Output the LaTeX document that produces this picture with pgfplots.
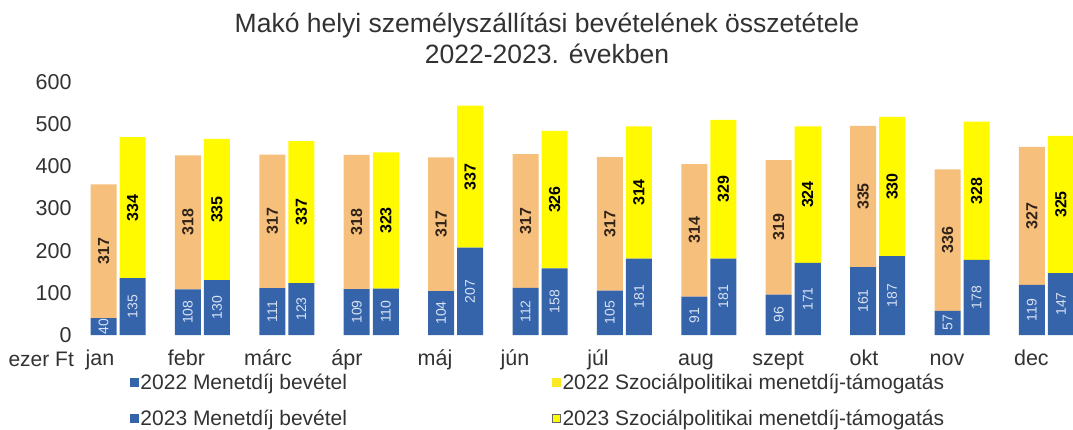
\documentclass[border=0pt]{standalone}
\usepackage{fontspec}
\setmainfont{Liberation Sans}
\usepackage{pgfplots}
\usepackage{pgfplotstable}
\pgfplotsset{compat=1.18}
\definecolor{cblue}{RGB}{54,100,170}
\definecolor{corange}{RGB}{246,192,124}
\definecolor{cyellow}{RGB}{255,250,0}
\definecolor{ctext}{RGB}{50,50,50}
\definecolor{clabel}{RGB}{215,226,244}
\definecolor{cdark}{RGB}{50,35,25}
\pgfplotstableread{
m b22 o22 b23 y23
1 40 317 135 334
2 108 318 130 335
3 111 317 123 337
4 109 318 110 323
5 104 317 207 337
6 112 317 158 326
7 105 317 181 314
8 91 314 181 329
9 96 319 171 324
10 161 335 187 330
11 57 336 178 328
12 119 327 147 325
}\data
\tikzset{
  bluelab/.style={font=\fontsize{14}{14}\selectfont, text=clabel},
  toplab/.style={font=\bfseries\fontsize{16}{16}\selectfont, text=#1},
}
\pgfplotsset{
  base/.style={
    at={(75pt,94pt)}, anchor=south west,
    scale only axis, width=998pt, height=253pt,
    xmin=-0.51, xmax=11.315,
    ymin=0, ymax=600,
    axis line style={draw=none},
    tick style={draw=none},
    /pgf/number format/assume math mode=true,
    clip=false,
  },
  seglabel/.style={only marks, mark=none, nodes near coords, point meta=explicit,
    every node near coord/.style={anchor=center, rotate=90, inner sep=0pt, #1}},
}
\begin{document}
\begin{tikzpicture}
\path[use as bounding box] (0,0) rectangle (1073pt,429pt);
\node[align=center, font=\fontsize{26.5}{31}\selectfont, text=ctext] at (547pt,391pt)
  {Makó helyi személyszállítási bevételének összetétele\\2022-2023. években};
\node[anchor=base west, font=\fontsize{21}{25}\selectfont, text=ctext] at (5pt,63pt) {ezer Ft};
\begin{axis}[base, ybar stacked, bar width=26pt,
  ytick={0,100,...,600},
  xtick={-0.213,0.81,1.777,2.713,3.756,4.704,5.687,6.848,7.820,8.839,9.822,10.822},
  xticklabels={jan,febr,márc,ápr,máj,jún,júl,aug,szept,okt,nov,dec},
  ticklabel style={font=\fontsize{21.5}{25}\selectfont, text=ctext},
  xticklabel style={anchor=base, yshift=-30pt},
  legend columns=2,
  legend cell align=left,
  legend style={draw=none, fill=none, inner sep=0pt,
    at={(axis description cs:0.055,-0.145)}, anchor=north west,
    font=\fontsize{21}{25}\selectfont, text=ctext, row sep=15pt,
    /tikz/every even column/.append style={column sep=203pt}},
]
\addlegendimage{legend image code/.code={\fill[cblue] (0pt,-4pt) rectangle (8pt,4pt);}}
\addlegendentry{2022 Menetdíj bevétel}
\addlegendimage{legend image code/.code={\fill[cyellow!70!corange] (0pt,-4pt) rectangle (8pt,4pt);}}
\addlegendentry{2022 Szociálpolitikai menetdíj-támogatás}
\addlegendimage{legend image code/.code={\fill[cblue] (0pt,-4pt) rectangle (8pt,4pt);}}
\addlegendentry{2023 Menetdíj bevétel}
\addlegendimage{legend image code/.code={\fill[cyellow,draw=black!60] (0pt,-4pt) rectangle (8pt,4pt);}}
\addlegendentry{2023 Szociálpolitikai menetdíj-támogatás}

\addplot[fill=cblue, draw=none]
  table[x expr=\coordindex-0.172, y=b22] {\data};
\addplot[fill=corange, draw=none]
  table[x expr=\coordindex-0.172, y=o22] {\data};
\end{axis}
\begin{axis}[base, ybar stacked, bar width=26pt, xtick=\empty, ytick=\empty]
\addplot[fill=cblue, draw=none]
  table[x expr=\coordindex+0.172, y=b23] {\data};
\addplot[fill=cyellow, draw=none]
  table[x expr=\coordindex+0.172, y=y23] {\data};
\end{axis}
% segment value labels, centred in each segment
\begin{axis}[base, xtick=\empty, ytick=\empty]
\addplot[seglabel={bluelab}]
  table[x expr=\coordindex-0.172, y expr=\thisrow{b22}/2, meta=b22] {\data};
\addplot[seglabel={toplab=cdark}]
  table[x expr=\coordindex-0.172, y expr=\thisrow{b22}+\thisrow{o22}/2, meta=o22] {\data};
\addplot[seglabel={bluelab}]
  table[x expr=\coordindex+0.172, y expr=\thisrow{b23}/2, meta=b23] {\data};
\addplot[seglabel={toplab=black}]
  table[x expr=\coordindex+0.172, y expr=\thisrow{b23}+\thisrow{y23}/2, meta=y23] {\data};
\end{axis}
\end{tikzpicture}
\end{document}
